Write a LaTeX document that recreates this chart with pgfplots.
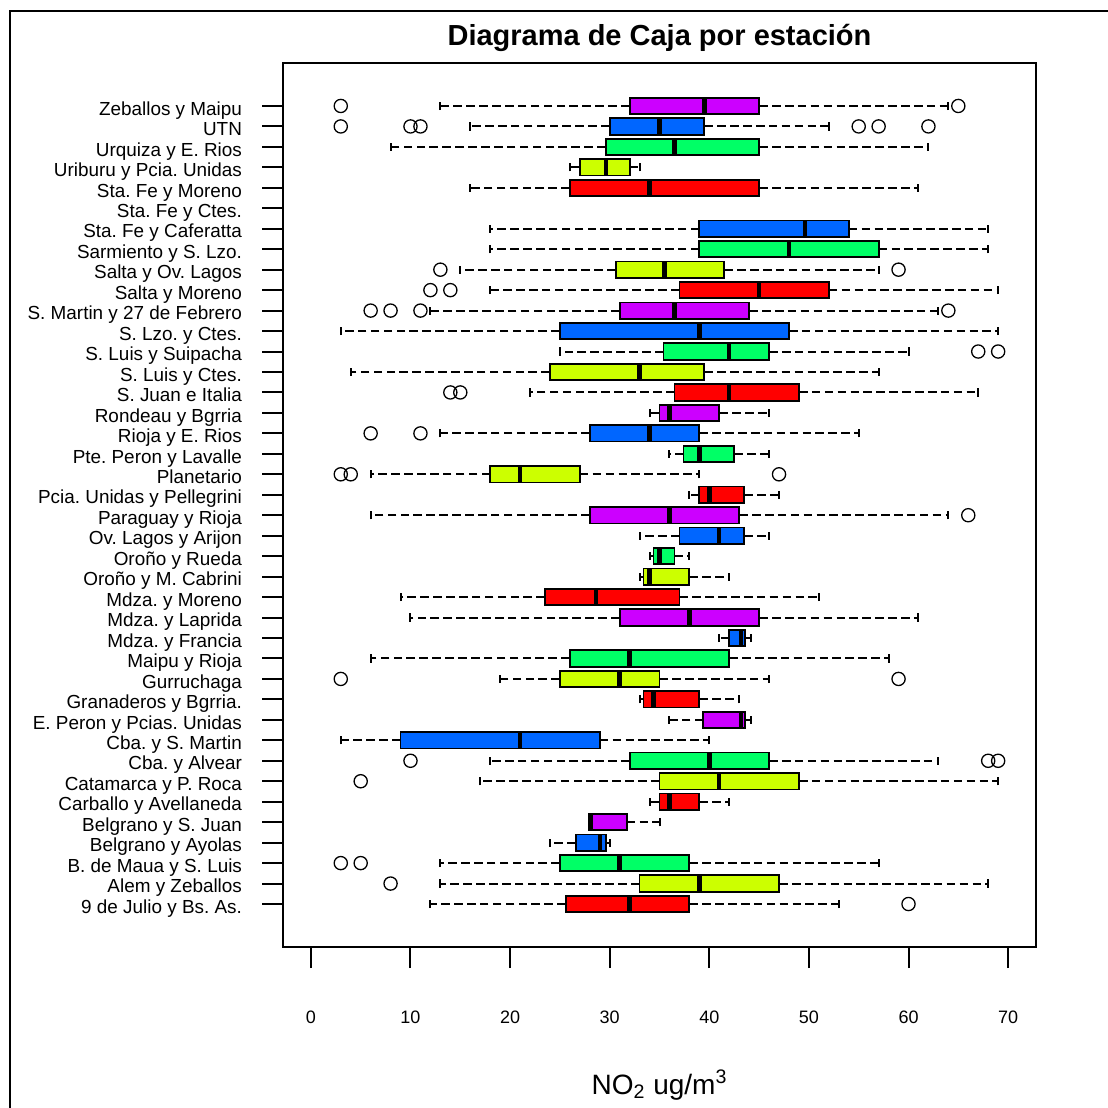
\documentclass[border=0pt]{standalone}
\usepackage{pgfplots}
\pgfplotsset{compat=1.18}
\usepgfplotslibrary{statistics}
\usepackage{fontspec}
\setmainfont{Liberation Sans}
\frenchspacing

% box fill colours (rainbow palette, 5 hues)
\definecolor{cred}{HTML}{FF0000}
\definecolor{cyel}{HTML}{CCFF00}
\definecolor{cgrn}{HTML}{00FF66}
\definecolor{cblu}{HTML}{0066FF}
\definecolor{cpur}{HTML}{CC00FF}

\tikzset{
  wline/.style={black, line width=1pt, dash pattern=on 4.3pt off 2.15pt},
  wcap/.style={black, line width=1pt, solid},
}
\pgfplotsset{
  bxs/.style={
    boxplot/every box/.style={draw=black, fill=#1, line width=0.9pt},
    mark=o, mark size=3.3pt,
    mark options={draw=black, solid, line width=0.65pt},
  },
}

\begin{document}
\begin{tikzpicture}
\useasboundingbox (0pt,0pt) rectangle (554pt,554pt);
% outer frame
\draw[line width=1pt] (5pt,-5pt) -- (5pt,548.5pt) -- (560pt,548.5pt);
% title
\node[anchor=base, font=\bfseries\fontsize{14.5}{17}\selectfont]
  at (329.75pt,531pt) {Diagrama de Caja por estación};

\begin{axis}[
  at={(141.5pt,80.5pt)}, anchor=south west,
  scale only axis, width=376.5pt, height=442pt,
  xmin=-2.8, xmax=72.8, ymin=-1.1, ymax=42.1,
  boxplot/draw direction=x,
  boxplot/box extend=0.8,
  boxplot/whisker extend=0.4,
  boxplot/every median/.style={black, line width=2.2pt},
  boxplot/draw/lower whisker/.code={%
    \draw[wline] (boxplot cs:\pgfplotsboxplotvalue{lower quartile}) -- (boxplot cs:\pgfplotsboxplotvalue{lower whisker});
    \draw[wcap] (boxplot whisker cs:\pgfplotsboxplotvalue{lower whisker},0) -- (boxplot whisker cs:\pgfplotsboxplotvalue{lower whisker},1);
  },
  boxplot/draw/upper whisker/.code={%
    \draw[wline] (boxplot cs:\pgfplotsboxplotvalue{upper quartile}) -- (boxplot cs:\pgfplotsboxplotvalue{upper whisker});
    \draw[wcap] (boxplot whisker cs:\pgfplotsboxplotvalue{upper whisker},0) -- (boxplot whisker cs:\pgfplotsboxplotvalue{upper whisker},1);
  },
  axis line style={line width=1pt},
  tick pos=left, tick align=outside,
  major tick length=10.5pt,
  tick style={black, line width=1pt},
  xtick={0,10,...,70},
  ytick={1,...,40},
  yticklabels={{9 de Julio y Bs. As.},{Alem y Zeballos},{B. de Maua y S. Luis},{Belgrano y Ayolas},{Belgrano y S. Juan},{Carballo y Avellaneda},{Catamarca y P. Roca},{Cba. y Alvear},{Cba. y S. Martin},{E. Peron y Pcias. Unidas},{Granaderos y Bgrria.},{Gurruchaga},{Maipu y Rioja},{Mdza. y Francia},{Mdza. y Laprida},{Mdza. y Moreno},{Oroño y M. Cabrini},{Oroño y Rueda},{Ov. Lagos y Arijon},{Paraguay y Rioja},{Pcia. Unidas y Pellegrini},{Planetario},{Pte. Peron y Lavalle},{Rioja y E. Rios},{Rondeau y Bgrria},{S. Juan e Italia},{S. Luis y Ctes.},{S. Luis y Suipacha},{S. Lzo. y Ctes.},{S. Martin y 27 de Febrero},{Salta y Moreno},{Salta y Ov. Lagos},{Sarmiento y S. Lzo.},{Sta. Fe y Caferatta},{Sta. Fe y Ctes.},{Sta. Fe y Moreno},{Uriburu y Pcia. Unidas},{Urquiza y E. Rios},{UTN},{Zeballos y Maipu}},
  /pgf/number format/assume math mode=true,
  xticklabel style={font=\fontsize{9}{10}\selectfont, anchor=base, yshift=-27.5pt},
  yticklabel style={font=\fontsize{9.45}{10}\selectfont, anchor=base east, yshift=-4.6pt, xshift=-6.5pt},
  xlabel={NO\textsubscript{2} ug/m\textsuperscript{3}},
  xlabel style={at={(axis description cs:0.5,0)}, anchor=base, yshift=-73.5pt,
    font=\fontsize{14}{16}\selectfont},
]
% 1 9 de Julio y Bs. As.
\addplot[bxs=cred, boxplot prepared={draw position=1, lower whisker=12, lower quartile=25.6, median=32, upper quartile=38, upper whisker=53}] coordinates {(0,60)};
% 2 Alem y Zeballos
\addplot[bxs=cyel, boxplot prepared={draw position=2, lower whisker=13, lower quartile=33, median=39, upper quartile=47, upper whisker=68}] coordinates {(0,8)};
% 3 B. de Maua y S. Luis
\addplot[bxs=cgrn, boxplot prepared={draw position=3, lower whisker=13, lower quartile=25, median=31, upper quartile=38, upper whisker=57}] coordinates {(0,3) (0,5)};
% 4 Belgrano y Ayolas
\addplot[bxs=cblu, boxplot prepared={draw position=4, lower whisker=24, lower quartile=26.6, median=29, upper quartile=29.6, upper whisker=30}] coordinates {};
% 5 Belgrano y S. Juan
\addplot[bxs=cpur, boxplot prepared={draw position=5, lower whisker=27.9, lower quartile=27.9, median=28.1, upper quartile=31.7, upper whisker=35}] coordinates {};
% 6 Carballo y Avellaneda
\addplot[bxs=cred, boxplot prepared={draw position=6, lower whisker=34, lower quartile=35, median=36, upper quartile=39, upper whisker=42}] coordinates {};
% 7 Catamarca y P. Roca
\addplot[bxs=cyel, boxplot prepared={draw position=7, lower whisker=17, lower quartile=35, median=41, upper quartile=49, upper whisker=69}] coordinates {(0,5)};
% 8 Cba. y Alvear
\addplot[bxs=cgrn, boxplot prepared={draw position=8, lower whisker=18, lower quartile=32, median=40, upper quartile=46, upper whisker=63}] coordinates {(0,10) (0,68) (0,69)};
% 9 Cba. y S. Martin
\addplot[bxs=cblu, boxplot prepared={draw position=9, lower whisker=3, lower quartile=9, median=21, upper quartile=29, upper whisker=40}] coordinates {};
% 10 E. Peron y Pcias. Unidas
\addplot[bxs=cpur, boxplot prepared={draw position=10, lower whisker=36, lower quartile=39.4, median=43.2, upper quartile=43.6, upper whisker=44.2}] coordinates {};
% 11 Granaderos y Bgrria.
\addplot[bxs=cred, boxplot prepared={draw position=11, lower whisker=33, lower quartile=33.4, median=34.4, upper quartile=39, upper whisker=43}] coordinates {};
% 12 Gurruchaga
\addplot[bxs=cyel, boxplot prepared={draw position=12, lower whisker=19, lower quartile=25, median=31, upper quartile=35, upper whisker=46}] coordinates {(0,3) (0,59)};
% 13 Maipu y Rioja
\addplot[bxs=cgrn, boxplot prepared={draw position=13, lower whisker=6, lower quartile=26, median=32, upper quartile=42, upper whisker=58}] coordinates {};
% 14 Mdza. y Francia
\addplot[bxs=cblu, boxplot prepared={draw position=14, lower whisker=41, lower quartile=42, median=43.2, upper quartile=43.6, upper whisker=44.2}] coordinates {};
% 15 Mdza. y Laprida
\addplot[bxs=cpur, boxplot prepared={draw position=15, lower whisker=10, lower quartile=31, median=38, upper quartile=45, upper whisker=61}] coordinates {};
% 16 Mdza. y Moreno
\addplot[bxs=cred, boxplot prepared={draw position=16, lower whisker=9, lower quartile=23.5, median=28.6, upper quartile=37, upper whisker=51}] coordinates {};
% 17 Oroño y M. Cabrini
\addplot[bxs=cyel, boxplot prepared={draw position=17, lower whisker=33, lower quartile=33.4, median=34, upper quartile=38, upper whisker=42}] coordinates {};
% 18 Oroño y Rueda
\addplot[bxs=cgrn, boxplot prepared={draw position=18, lower whisker=34, lower quartile=34.4, median=35, upper quartile=36.5, upper whisker=38}] coordinates {};
% 19 Ov. Lagos y Arijon
\addplot[bxs=cblu, boxplot prepared={draw position=19, lower whisker=33, lower quartile=37, median=41, upper quartile=43.5, upper whisker=46}] coordinates {};
% 20 Paraguay y Rioja
\addplot[bxs=cpur, boxplot prepared={draw position=20, lower whisker=6, lower quartile=28, median=36, upper quartile=43, upper whisker=64}] coordinates {(0,66)};
% 21 Pcia. Unidas y Pellegrini
\addplot[bxs=cred, boxplot prepared={draw position=21, lower whisker=38, lower quartile=39, median=40, upper quartile=43.5, upper whisker=47}] coordinates {};
% 22 Planetario
\addplot[bxs=cyel, boxplot prepared={draw position=22, lower whisker=6, lower quartile=18, median=21, upper quartile=27, upper whisker=39}] coordinates {(0,3) (0,4) (0,47)};
% 23 Pte. Peron y Lavalle
\addplot[bxs=cgrn, boxplot prepared={draw position=23, lower whisker=36, lower quartile=37.4, median=39, upper quartile=42.5, upper whisker=46}] coordinates {};
% 24 Rioja y E. Rios
\addplot[bxs=cblu, boxplot prepared={draw position=24, lower whisker=13, lower quartile=28, median=34, upper quartile=39, upper whisker=55}] coordinates {(0,6) (0,11)};
% 25 Rondeau y Bgrria
\addplot[bxs=cpur, boxplot prepared={draw position=25, lower whisker=34, lower quartile=35, median=36, upper quartile=41, upper whisker=46}] coordinates {};
% 26 S. Juan e Italia
\addplot[bxs=cred, boxplot prepared={draw position=26, lower whisker=22, lower quartile=36.5, median=42, upper quartile=49, upper whisker=67}] coordinates {(0,14) (0,15)};
% 27 S. Luis y Ctes.
\addplot[bxs=cyel, boxplot prepared={draw position=27, lower whisker=4, lower quartile=24, median=33, upper quartile=39.5, upper whisker=57}] coordinates {};
% 28 S. Luis y Suipacha
\addplot[bxs=cgrn, boxplot prepared={draw position=28, lower whisker=25, lower quartile=35.4, median=42, upper quartile=46, upper whisker=60}] coordinates {(0,67) (0,69)};
% 29 S. Lzo. y Ctes.
\addplot[bxs=cblu, boxplot prepared={draw position=29, lower whisker=3, lower quartile=25, median=39, upper quartile=48, upper whisker=69}] coordinates {};
% 30 S. Martin y 27 de Febrero
\addplot[bxs=cpur, boxplot prepared={draw position=30, lower whisker=12, lower quartile=31, median=36.5, upper quartile=44, upper whisker=63}] coordinates {(0,6) (0,8) (0,11) (0,64)};
% 31 Salta y Moreno
\addplot[bxs=cred, boxplot prepared={draw position=31, lower whisker=18, lower quartile=37, median=45, upper quartile=52, upper whisker=69}] coordinates {(0,12) (0,14)};
% 32 Salta y Ov. Lagos
\addplot[bxs=cyel, boxplot prepared={draw position=32, lower whisker=15, lower quartile=30.6, median=35.5, upper quartile=41.5, upper whisker=57}] coordinates {(0,13) (0,59)};
% 33 Sarmiento y S. Lzo.
\addplot[bxs=cgrn, boxplot prepared={draw position=33, lower whisker=18, lower quartile=39, median=48, upper quartile=57, upper whisker=68}] coordinates {};
% 34 Sta. Fe y Caferatta
\addplot[bxs=cblu, boxplot prepared={draw position=34, lower whisker=18, lower quartile=39, median=49.6, upper quartile=54, upper whisker=68}] coordinates {};
% 35 Sta. Fe y Ctes. : no data
% 36 Sta. Fe y Moreno
\addplot[bxs=cred, boxplot prepared={draw position=36, lower whisker=16, lower quartile=26, median=34, upper quartile=45, upper whisker=61}] coordinates {};
% 37 Uriburu y Pcia. Unidas
\addplot[bxs=cyel, boxplot prepared={draw position=37, lower whisker=26, lower quartile=27, median=29.6, upper quartile=32, upper whisker=33}] coordinates {};
% 38 Urquiza y E. Rios
\addplot[bxs=cgrn, boxplot prepared={draw position=38, lower whisker=8, lower quartile=29.6, median=36.5, upper quartile=45, upper whisker=62}] coordinates {};
% 39 UTN
\addplot[bxs=cblu, boxplot prepared={draw position=39, lower whisker=16, lower quartile=30, median=35, upper quartile=39.5, upper whisker=52}] coordinates {(0,3) (0,10) (0,11) (0,55) (0,57) (0,62)};
% 40 Zeballos y Maipu
\addplot[bxs=cpur, boxplot prepared={draw position=40, lower whisker=13, lower quartile=32, median=39.5, upper quartile=45, upper whisker=64}] coordinates {(0,3) (0,65)};
\end{axis}
\end{tikzpicture}
\end{document}
